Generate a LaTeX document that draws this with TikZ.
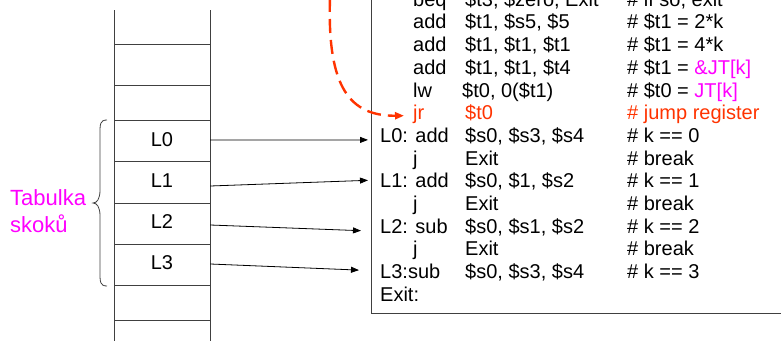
\documentclass[tikz,border=0pt]{standalone}
\usepackage{fontspec}
\setmainfont{Liberation Sans}
\usetikzlibrary{arrows.meta,calc}

\definecolor{jtmag}{HTML}{FF00FF}
\definecolor{jred}{HTML}{FF3300}
\definecolor{rule}{HTML}{404040}

% one line of assembly: name, row, opcode x, opcode, operand x, operands, comment
\newcommand\asmline[7]{%
  \node[asm] (#1op)  at (#3,  {6.2+#2*22.7}) {#4};
  \node[asm] (#1arg) at (#5,  {6.2+#2*22.7}) {#6};
  \node[asm] (#1cm)  at (627, {6.2+#2*22.7}) {#7};
}

\begin{document}
\begin{tikzpicture}[x=1pt,y=-1pt,
  asm/.style={anchor=base west,inner sep=0pt,font=\fontsize{20}{24}\selectfont},
  cell/.style={inner sep=0pt,minimum width=96pt,font=\fontsize{20}{24}\selectfont},
  tablabel/.style={anchor=base west,inner sep=0pt,text=jtmag,font=\fontsize{22}{27}\selectfont},
  tableline/.style={draw=rule,line width=0.9pt},
  jump/.style={draw=black,line width=0.8pt,-{Triangle[length=8pt,width=6pt]}},
  dyn/.style={draw=jred,line width=2.4pt,dash pattern=on 14pt off 7pt,
              -{Triangle[length=9pt,width=7pt]}}]
\useasboundingbox (0,0) rectangle (781,340);

% jump table column
\draw[tableline] (114,10) -- (114,345);
\draw[tableline] (210,10) -- (210,345);
\foreach \yy in {44,85.3,120,161.7,203,244.3,285.7,320.3}
  \draw[tableline] (114,\yy) -- (210,\yy);
\node[cell] (l0) at (162,140) {L0};
\node[cell] (l1) at (162,181) {L1};
\node[cell] (l2) at (162,222) {L2};
\node[cell] (l3) at (162,263) {L3};

% brace and its label
\draw[draw=rule,line width=0.8pt]
  (107,120) .. controls (100,120) and (100,124) .. (100,134) -- (100,190)
  .. controls (100,199) and (97,203) .. (93,203)
  .. controls (97,203) and (100,207) .. (100,216) -- (100,272)
  .. controls (100,282) and (100,286) .. (107,286);
\node[tablabel] (tab1) at (10,205) {Tabulka};
\node[tablabel] (tab2) at (10,232) {skoků};

% code frame
\draw[tableline] (371,-5) -- (371,313) -- (790,313);

% code listing
\asmline{r0}{0}{413}{beq}{465}{\$t3, \$zero, Exit}{\# if so, exit}
\asmline{r1}{1}{413}{add}{465}{\$t1, \$s5, \$5}{\# \$t1 = 2*k}
\asmline{r2}{2}{413}{add}{465}{\$t1, \$t1, \$t1}{\# \$t1 = 4*k}
\asmline{r3}{3}{413}{add}{465}{\$t1, \$t1, \$t4}{\# \$t1 = \textcolor{jtmag}{\&JT[k]}}
\asmline{r4}{4}{413}{lw}{462}{\$t0, 0(\$t1)}{\# \$t0 = \textcolor{jtmag}{JT[k]}}
\asmline{r5}{5}{413}{\textcolor{jred}{jr}}{465}{\textcolor{jred}{\$t0}}{\textcolor{jred}{\# jump register}}
\asmline{r6}{6}{380}{L0: add}{465}{\$s0, \$s3, \$s4}{\# k == 0}
\asmline{r7}{7}{413}{j}{465}{Exit}{\# break}
\asmline{r8}{8}{380}{L1: add}{465}{\$s0, \$1, \$s2}{\# k == 1}
\asmline{r9}{9}{413}{j}{465}{Exit}{\# break}
\asmline{r10}{10}{380}{L2: sub}{465}{\$s0, \$s1, \$s2}{\# k == 2}
\asmline{r11}{11}{413}{j}{465}{Exit}{\# break}
\asmline{r12}{12}{380}{L3:sub}{465}{\$s0, \$s3, \$s4}{\# k == 3}
\node[asm] (r13op) at (380,{6.2+13*22.7}) {Exit:};

% table entries point at their labels
\coordinate (t0) at ($(r6op.base west)+(-12,-2.5)$);
\coordinate (t1) at ($(r8op.base west)+(-12,-7.5)$);
\coordinate (t2) at ($(r10op.base west)+(-19,-2.5)$);
\coordinate (t3) at ($(r12op.base west)+(-21,-8.5)$);
\draw[jump] ($(l0.east)+(0,0)$) -- (t0);
\draw[jump] ($(l1.east)+(0,5)$) -- (t1);
\draw[jump] ($(l2.east)+(0,3)$) -- (t2);
\draw[jump] ($(l3.east)+(0,1)$) -- (t3);

% dynamic jump into the table target
\coordinate (dynstart) at (330,-2);
\coordinate (jrtip) at ($(r5op.base west)+(-9,-4)$);
\draw[dyn] (dynstart) .. controls (327,88) and (350,116) .. (jrtip);
\end{tikzpicture}
\end{document}
